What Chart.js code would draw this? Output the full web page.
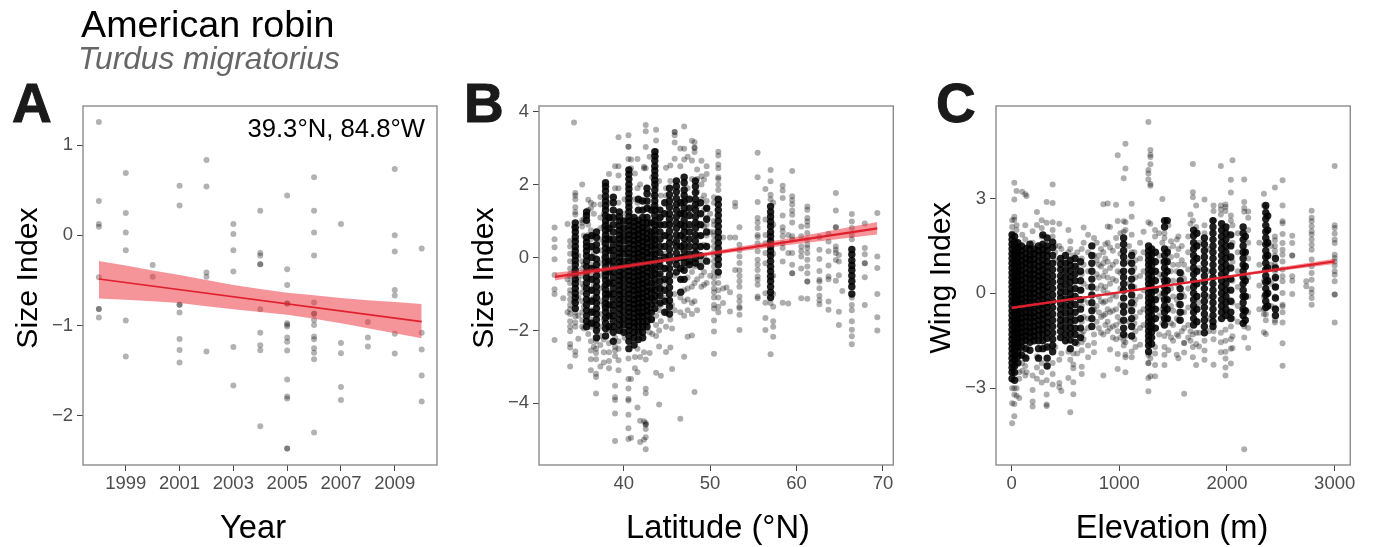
<!DOCTYPE html>
<html>
<head>
<meta charset="utf-8">
<title>American robin</title>
<script src="https://cdn.jsdelivr.net/npm/chart.js@4"></script>
<style>
  body { margin: 0; background: #fff; font-family: "Liberation Sans", sans-serif; }
  #page { position: relative; width: 1374px; height: 547px; overflow: hidden; }
  canvas { position: absolute; top: 0; }
  .txt { position: absolute; white-space: nowrap; line-height: 1; color: #000; }
  .letter { font-size: 55px; font-weight: bold; color: #1a1a1a; -webkit-text-stroke: 1px #1a1a1a; }
  .axis { font-size: 32.7px; transform: translate(-50%, -50%); }
  .axis.y { font-size: 30.3px; transform: translate(-50%, -50%) rotate(-90deg); }
</style>
</head>
<body>
<div id="page">
  <canvas id="chartA" width="450" height="547" style="left:0"></canvas>
  <canvas id="chartB" width="455" height="547" style="left:455px"></canvas>
  <canvas id="chartC" width="459" height="547" style="left:915px"></canvas>
  <div class="txt" style="left:81px;top:6px;font-size:37.7px">American robin</div>
  <div class="txt" style="left:78px;top:43px;font-size:31.7px;font-style:italic;color:#666">Turdus migratorius</div>
  <div class="txt letter" style="left:12px;top:76px">A</div>
  <div class="txt letter" style="left:464px;top:76px">B</div>
  <div class="txt letter" style="left:936px;top:76px">C</div>
  <div class="txt" style="right:949px;top:116px;font-size:25.7px">39.3°N, 84.8°W</div>
  <div class="txt axis y" style="left:27px;top:278px">Size Index</div>
  <div class="txt axis y" style="left:483px;top:278px">Size Index</div>
  <div class="txt axis y" style="left:940px;top:278px">Wing Index</div>
  <div class="txt axis" style="left:253px;top:527px">Year</div>
  <div class="txt axis" style="left:718px;top:527px">Latitude (°N)</div>
  <div class="txt axis" style="left:1172px;top:527px">Elevation (m)</div>
</div>
<script>
// panel A, one list of size index values per year
const years = [1998, 1999, 2000, 2001, 2002, 2003, 2004, 2005, 2006, 2007, 2008, 2009, 2010];
const sizeByYear = [
  [1.255, .38, .125, .095, -.465, -.815, -.815, -.91],
  [.69, .247, .03, -.166, -.945, -1.343],
  [-.33, -.46],
  [.55, .33, -.77, -.77, -.855, -1.148, -1.27, -1.41],
  [.835, .54, -.413, -.46, -1.288],
  [.125, .015, -.166, -.4, -1.236, -1.664],
  [.273, -.195, -.225, -.32, -.32, -.82, -1.08, -1.218, -1.273, -2.114],
  [.44, -.377, -.55, -.756, -.756, -.974, -.99, -1.01, -1.133, -1.18, -1.277, -1.598, -1.786, -1.808, -2.36, -2.36],
  [.642, .273, .03, -.225, -.745, -.87, -.87, -.937, -.993, -1.12, -1.15, -1.25, -1.3, -1.373, -2.185],
  [.125, -1.192, -1.306, -1.68, -1.823],
  [-.96, -1.133, -1.232],
  [.735, 0, -.18, -.605, -.668, -1.09, -1.31],
  [-.145, -1.08, -1.266, -1.553, -1.84]
];
const yearFitX = [1998, 2010];
const yearFitY = [-.484, -.956];
const yearBandX = [1998, 1999, 2000, 2001, 2002, 2003, 2004, 2005, 2006, 2007, 2008, 2009, 2010];
const yearBandHigh = [-.285, -.335, -.39, -.44, -.495, -.55, -.595, -.635, -.665, -.695, -.72, -.74, -.76];
const yearBandLow = [-.7, -.715, -.73, -.75, -.785, -.82, -.85, -.88, -.925, -.975, -1.03, -1.085, -1.14];

// panel B, points that can still be told apart
const latColumns = [32, 33, 33.5, 33.8, 34.25, 34.4, 34.75, 35.2, 35.4, 35.9, 36.2, 36.55, 36.8, 37.3, 37.7, 38.3, 39, 39.4, 40.1, 40.55, 40.85, 41.3, 41.6, 41.9, 42.35, 42.55, 43, 43.3, 43.75, 44.1, 44.3, 44.9, 45.4, 45.6, 45.9, 46.55, 47, 47.4, 47.9, 48.2, 48.5, 49, 49.3, 49.6, 50, 50.45, 50.95, 51.5, 51.9, 52.3, 52.9, 53.4, 55.5, 56.4, 57, 57.3, 58.4, 59.05, 59.5, 60.55, 61.25, 62.65, 63.7, 64.55, 64.9, 65.3, 66.4, 67.9, 69.35];
const sizeByLat = [
  [.82, .5, .28, -.05, -.48, -.87, -1, -2.26],
  [-1.12],
  [.92, -.6, -1.5],
  [.45, .3, .1, -.1, -.3, -.45, -.52, -.7, -.9, -1, -1.15, -1.3, -1.42, -1.55, -1.75, -1.9, -2.02, -2.37, -2.47, -2.99],
  [3.7, .85, .1, -.4, -1.2],
  [1.77, 1.7, 1.6, 1.38, 1.25, 1.18, -1.5, -1.62, -1.78, -1.9, -2.58, -2.69],
  [.05, -.6, -1.1, -1.6, -2.23],
  [2, 1.02, .95, .85, -.1, -.3, -.5, -.72, -.95, -1.2, -1.5, -1.72, -1.9],
  [1.05, .6, -.2, -.8, -1.35, -1.95],
  [1.58, 1.3, .9, .62, -.6, -1.2, -1.8, -2.1],
  [1.5, 1.35, .75, .5, .25, -.2, -.5, -.9, -1.15, -1.45, -1.7, -1.9, -2.3, -2.55, -2.79, -3.09],
  [1.45, 1.2, .6, .1, -.3, -.75, -1.1, -1.5, -1.85, -2.45],
  [-2.3, -2.5, -2.62, -2.79, -3.19, -3.28, -3.73],
  [1.66, 1.45, 1.1, .8, .5, .2, -.15, -.5, -.85, -1.2, -1.55, -1.9, -2.15, -2.4, -2.99],
  [1.2, .85, .4, 0, -.4, -.8, -1.3, -1.7, -2.25, -2.6, -2.88],
  [2.29, 1.5, 1, .65, .25, -.15, -.6, -1.05, -1.5, -2, -2.35, -2.6, -2.84, -3.04],
  [2.5, 1.9, -2.2, -2.45, -2.55, -2.7, -3.52, -3.83, -3.91, -4.28, -5.03],
  [3.3, 2.5, 2.25, 1.9, 1.5, -2.3, -2.5, -2.82, -3.09],
  [1.6, 1.2, -2.2],
  [3.35, 3.04, 3.04, 2.7, -2.77, -3.33, -3.59, -3.88, -3.92, -4.31, -4.68, -4.98],
  [2.69, 2.45, -3.33, -4.94],
  [2.3, 1.6, -2.73, -3.04],
  [2.7, 1.9, 1.5, -2.5, -3.15, -4.11],
  [2, 1.55, -2.73, -4.48, -5.06],
  [2.49, 2.45, -2.6, -4.49, -5],
  [3.63, 3.46, 3.03, 2.45, -2.8, -3.6, -3.72, -4.54, -4.58, -4.58, -4.7, -4.93, -5.26],
  [2.76, 1.4, -.9, -1.5, -2.05, -2.62],
  [2.2, 1.7, .6, -1.1, -1.7, -2.1],
  [3.5, 3.21, 2.92, 2.76, 1.95, -1.6, -1.85, -2.15, -3.16],
  [2.1, .9, -.5, -1, -1.45, -2, -2.44, -4.03],
  [1.7, 1.1, -.2, -.8, -1.3, -1.75, -3.24],
  [2.46, 1.9, 1.7, .6, .1, -.3, -.7, -1.1, -1.5, -1.9, -2.59],
  [2.52, 2.1, .9, -1.7, -2.47],
  [-1.3, -1.95, -3.06],
  [3.35, 3.44, 3.44, 3.15, 2.71, .4, -.5, -1, -1.45],
  [2.99, 2.5, 1.2, -.6, -1.1, -1.5, -4.42],
  [3.59, 2.98, 2.69, 1.6, -.9, -1.2, -1.6, -2.72],
  [2.76, 1.9, -.55, -.85, -1.15, -1.45, -2.17],
  [3.2, 2.66, 2.15, -.4, -.8, -1.25, -1.55, -2.14],
  [3.16, 3.01, 3.01, 2.89, .2, -.25, -.7, -1.2, -3.69],
  [2.41, 2.15, 1.8, 1.4, .95, .6, .2, -.2, -.6, -1.45],
  [2.65, 2.23, 2, 1.6, 1.2, .9, .6, .3, -.1, -.5, -.8],
  [2.14, 1.7, 1.3, .85, .35, .05, -.4, -.75],
  [2.5, 2.29, 1.55, 1.35, 1.1, .9, .6, .3, -.7],
  [1.2, .7, -.5],
  [1.65, 1.5, 1.0, .9, .7, .6, .45, .3, .15, .05, -.1, -.25, -.4, -.55, -.7, -.85, -.95, -1.1, -1.3, -1.4, -1.73, -2.03, -2.64],
  [2.9, 2.8, 2.55, 2.45, 2.2, 2.15, 2, 1.85, -.5, -.7, -.9, -1.1, -1.35, -1.5],
  [.55, -.85, -1.25],
  [-.82],
  [.55, -.95, -1.48],
  [1.5, 1.4, .55, -.34],
  [.83, .35, .2, .03, -.15, -.35, -.5, -.65, -.8, -1.07, -1.2, -1.35, -1.39, -1.57, -1.99],
  [2.87, 2.2, 1.52, 1.08, .96, .81, .62, .56, .39, .17, -.06, -.2, -.34, -.52, -.61, -.75, -1.07, -1.12],
  [1.88, 1.04, .62, .39, .12, -.16, -.98, -1.24, -1.66, -1.99],
  [2.4, 2.09, 1.72, 1.6, -1.25, -2.65],
  [1.5, .9, .1, -.5, -1, -1.35, -1.75, -1.9, -2.17],
  [1.97, 1.84, 1.63, 1.15, .83, .72, .58, .39, .26, -.11, -1.24],
  [.62, .12, -1.26],
  [2.37, 1.68, 1.57, 1.45, 1.29, 1.17, .96, .58, .49, .12, -.2, -.43, -.43],
  [.85, .58, .3, .17, .03, -.3, -1.12],
  [1.4, 1.31, 1.08, .99, .87, .67, .49, .35, .26, .12, -.06, -.25, -.43, -.66, -.66, -1.13],
  [.56, .21, -.04, -.37, -.61, -.66, -.84, -1.05, -1.17, -1.28],
  [.65, .44, .17, -.22, -.52, -.6, -1.21, -1.43],
  [1.77, 1.29, .83, .83, .3, .21, .12, -.07, -.64],
  [.07, -.11, -.49, -1.49, -1.85],
  [-.92],
  [1.19, .99, .81, .62, .5, -1.1, -1.3, -1.45, -1.75, -1.98, -2.16, -2.38],
  [.93, .26, .09, -.16, -.16, -.54, -1.3],
  [1.22, .03, -.29, -1, -1.64, -2]
];
// panel B, columns overplotted too heavily to read one by one
const latCore = [34.4, 35.7, 36.3, 36.85, 37.9, 38.3, 38.8, 39.5, 40, 40.6, 41.2, 41.7, 42.2, 42.7, 43.2, 43.6, 44.2, 44.75, 45.3, 46.1, 46.6, 47, 47.6, 48.3, 48.9, 49.6, 50.95, 57, 66.4];
const sizeCore = [
  [.95, .82, .7, .56, .44, .3, .18, .05, -.08, -.2, -.34, -.46, -.6, -.72, -.85, -.98, -1.1, -1.24, -1.4],
  [1.25, 1.15, 1.02, .55, .42, .3, .18, .05, -.1, -.25, -.4, -.55, -.7, -.85, -1, -1.15, -1.3, -1.45, -1.6, -1.75, -1.9],
  [.6, .3, 0, -.3, -.6, -.9, -1.2, -1.5, -1.8],
  [.7, .55, .35, .2, -.05, -.2, -.35, -.5, -.65, -.8, -.95, -1.1, -1.25, -1.4, -1.55, -1.7, -1.85, -2, -2.2],
  [2.05, 1.95, 1.82, 1.68, 1.55, 1.42, 1.3, 1.15, 1, .88, .75, .62, .5, .38, .25, .12, 0, -.12, -.25, -.38, -.5, -.62, -.75, -.88, -1, -1.12, -1.25, -1.38, -1.5, -1.65, -1.8, -1.95, -2.15],
  [1.1, .8, .5, .2, -.1, -.4, -.7, -1, -1.3, -1.6, -1.9],
  [1.65, 1.5, 1.3, 1.1, .9, .7, .5, .35, .2, .05, -.1, -.25, -.4, -.55, -.7, -.85, -1, -1.15, -1.3, -1.45, -1.6, -1.75, -1.9, -2.05, -2.3],
  [1.25, 1.12, 1, .87, .75, .62, .5, .38, .25, .12, 0, -.12, -.25, -.38, -.5, -.63, -.76, -.9, -1.02, -1.15, -1.28, -1.4, -1.55, -1.7, -1.85, -2],
  [1, .8, .62, .45, .25, .1, -.1, -.28, -.45, -.62, -.8, -.98, -1.15, -1.32, -1.5, -1.68, -1.85, -2.05],
  [2.4, 2.28, 2.15, 2, 1.88, 1.75, 1.62, 1.5, 1.38, 1.25, 1.12, 1, .88, .75, .62, .5, .38, .25, .12, 0, -.13, -.25, -.38, -.5, -.63, -.75, -.88, -1, -1.13, -1.25, -1.38, -1.5, -1.63, -1.75, -1.88, -2, -2.15, -2.3, -2.5],
  [1.1, .98, .85, .72, .6, .47, .35, .22, .1, -.03, -.16, -.28, -.4, -.53, -.66, -.78, -.9, -1.03, -1.16, -1.28, -1.4, -1.53, -1.66, -1.78, -1.9, -2.05, -2.2, -2.4],
  [1.6, 1.3, 1.02, .9, .76, .63, .5, .38, .25, .12, 0, -.12, -.25, -.38, -.5, -.62, -.75, -.88, -1, -1.12, -1.25, -1.38, -1.5, -1.62, -1.75, -1.9, -2.05, -2.25],
  [1.55, 1.3, 1.1, .95, .82, .7, .56, .44, .3, .18, .05, -.08, -.2, -.34, -.46, -.6, -.72, -.85, -.98, -1.1, -1.24, -1.36, -1.5, -1.62, -1.76, -1.9, -2.05, -2.2],
  [1.9, 1.75, 1.55, 1.35, 1.1, .95, .8, .66, .52, .4, .26, .13, 0, -.14, -.27, -.4, -.53, -.67, -.8, -.93, -1.07, -1.2, -1.33, -1.46, -1.6, -1.75, -1.9],
  [1.3, .95, .7, .5, .3, .1, -.1, -.3, -.5, -.7, -.9, -1.1, -1.3, -1.5, -1.7],
  [2.9, 2.78, 2.65, 2.5, 2.38, 2.25, 2.12, 2, 1.85, 1.7, 1.55, 1.42, 1.3, 1.15, 1, .88, .75, .62, .48, .35, .22, .08, -.05, -.18, -.32, -.45, -.6, -.75, -.9, -1.05, -1.2, -1.4],
  [1.3, 1.1, .9, .7, .5, .3, .12, -.08, -.25, -.45, -.65, -.85, -1.05, -1.25],
  [1.5, 1.2, .9, .6, .3, 0, -.3, -.6, -.9, -1.2, -1.5],
  [1.9, 1.72, 1.55, 1.38, 1.2, 1.05, .9, .72, .55, .4, .22, .05, -.12, -.3, -.48, -.65, -.82, -1, -1.18, -1.35, -1.55],
  [2.1, 1.95, 1.8, 1.62, 1.45, 1.3, 1.12, .95, .8, .62, .45, .3, .12, -.05, -.2, -.4],
  [1.5, 1.2, .9, .6, .3, 0, -.3, -.6, -.95],
  [2.2, 2.05, 1.85, 1.7, 1.52, 1.35, 1.2, 1.02, .85, .7, .52, .35, .18, 0, -.15, -.35, -.6],
  [1.6, 1.35, 1.15, .9, .7, .5, .3, .1, -.1, -.2],
  [2.1, 1.95, 1.78, 1.6, 1.45, 1.3, 1.12, .95, .8, .62, .45, .3, .12, -.02, -.15],
  [1.5, 1.2, .9, .6, .3, .05, -.25],
  [1.35, 1.05, .7, .3, -.1],
  [1.6, 1.45, 1.3, 1.15, 1, .85, .7, .55, .4, .25, .1, -.05, -.2, -.4],
  [1.4, 1.25, 1.12, .98, .85, .7, .58, .45, .3, .18, .05, -.1, -.25, -.38, -.52, -.65, -.8, -.95, -1.1],
  [.22, .08, -.08, -.22, -.35, -.5, -.65, -.8, -1]
];
const latFitX = [32.05, 69.35];
const latFitY = [-.53, .797];
const latBandX = [32.05, 38, 45, 52, 60, 69.35];
const latBandHigh = [-.42, -.26, -.02, .24, .56, .97];
const latBandLow = [-.63, -.38, -.12, .12, .37, .63];

// panel C, points that can still be told apart
const elevColumns = [5, 25, 46, 71, 99, 127, 139, 195, 235, 279, 325, 381, 405, 443, 462, 527, 545, 573, 610, 651, 669, 710, 765, 790, 810, 830, 852, 870, 892, 914, 940, 970, 985, 1010, 1041, 1057, 1090, 1115, 1140, 1150, 1193, 1225, 1270, 1289, 1332, 1370, 1400, 1419, 1456, 1480, 1500, 1534, 1549, 1580, 1602, 1640, 1661, 1683, 1714, 1741, 1791, 1830, 1875, 1943, 1986, 2036, 2051, 2100, 2160, 2197, 2300, 2343, 2361, 2410, 2445, 2516, 2606, 2736, 2786, 3000];
const wingByElev = [
  [2.31, 2.1, 1.9, -3, -3.48, -4.11],
  [3.5, 2.97, 2.42, 2.33, -3, -3.2, -3.5, -3.89],
  [3.24, 2.15, 2, -3.24, -3],
  [-3.31, -2.7, -2.5],
  [3.21, 1.85, -2.45, -2.2],
  [3.13, 2.15, 1.7, -2.6, -2.3, -2],
  [3.08, -2.5],
  [1.96, 1.6, -3.42, -3.58, -3.06, -2.6],
  [2.57, 2.16, -2.35, -2, -2.7],
  [2.31, 2.07, 1.8, -2.82, -2.5, -2.2],
  [2.89, 2.23, -3.2, -3.52, -3.56, -2.75],
  [3.44, 2.86, 2.25, 2, 1.8, -2.88, -2.55, -2.2],
  [1.5, 1.3, 1.05, -1.7],
  [2.2, 1.5, -2.84, -2.97, -2.1],
  [1.4, -3.09, -1.9],
  [2, 1.3, -2.68, -1.85],
  [1.65, 1.4, -3.76, -2.1],
  [1.2, -2.81, -3.19, -2.37, -2.25, -1.9],
  [1.3, .8, -1.6, -1.9],
  [1.4, 1.1, .6, .1, -.4, -.9, -1.3, -1.55, -1.8, -2.32, -2.55],
  [2.08, 1.6, .9, .3, -.2, -.75, -1.2, -1.45],
  [1.85, 1.3, .7, .2, -.3, -.8, -1.1, -1.65, -2.02],
  [1.75, 1.2, -.5, -1.3, -1.57, -1.86],
  [1.6, 1.05, .6, .15, -.4, -.9],
  [1.2, .9, .5, -.1, -.6, -1.1],
  [1.4, .85, .25, -.25, -.75, -1.25],
  [2.82, 1.3, .95, .55, .1, -.3, -.7, -1.3, -2.6],
  [1.55, 1.1, .7, .2, -.25, -.65, -1],
  [2.84, 2.11, 1.6, 1, .5, 0, -.5, -.9, -1.2],
  [2.1, 1.45, .8, .3, -.2, -.6, -1.1, -1.78],
  [1.35, .9, .45, -.05, -.55, -1.05, -1.4],
  [2.8, 1.75, 1, .4, -.1, -.5, -1, -1.45],
  [4.37, 2.29, 1.5, .7, -.75, -1.2, -1.92, -2.39],
  [1.9, 1.25, .65, .15, -.35, -.9, -1.4],
  [3.64, 2.28, 1.95, -1.5, -1.65],
  [4.73, 3.95, 2.25, 2, -1.35, -1.55, -1.94, -2.02, -2.5],
  [1.5, 1, .3, -.4, -.9],
  [2.83, 2.42, 1.85, 1.3, -1.84, -2.02],
  [1.3, .8, .2, -.35, -.95, -1.45],
  [1.05, .5, -.2, -.75, -1.2, -1.7],
  [1.6, 1.1, .55, -.1, -.6, -1.1, -1.63],
  [1.95, 1.3, .7, .1, -.5, -1],
  [5.42, 3.9, 3.79, 3.6, 2.25, -1.95, -2.2, -2.21, -2.68, -3.1],
  [4.53, 4.38, 4.31, 4.08, 3.46, 3.4, 2.2, -2.05, -2.62],
  [2, 1.8, -1.7, -1.9, -2.27, -2.62],
  [1.9, 1.2, .6, -.1, -.7, -1.3],
  [2.98, 1.6, 1, .5, 0, -.5, -.95],
  [1.9, 1.75, -1.35, -1.7, -1.94, -2.27],
  [2.15, 1.4, -.8, -1.25, -1.8],
  [1.65, 1.15, .7, .15, -.4, -.95, -1.4],
  [1.5, .9, .4, -.1, -.55, -1, -1.5],
  [1.7, 1.2, .7, -.2, -.8, -1.3, -1.94],
  [1.8, 1.4, .9, .25, -.35, -.85, -1.35, -2.05],
  [1.5, 1.05, .6, 0, -.6, -1.2],
  [.9, .45, -.1, -.6, -1.1, -1.57, -1.57, -1.87, -3.18],
  [1.8, 1.3, .75, .15, -.45, -1, -1.4],
  [2.49, 2.2, -1.2, -1.5],
  [4.09, 3.2, 3.04, 2.3, -1.3, -1.7, -2.02],
  [2.78, 2.1, -1.25, -1.6, -2.27],
  [1.6, .8, -.3, -1.25, -1.68],
  [2.97, 2.15, 1.9, -1.5, -1.81, -2.1],
  [1.4, .7, -.1, -.8, -1.2],
  [2.78, 2.6, 2.3, -1.2, -1.45, -2.26],
  [4.03, 2.78, 2.49, 2.65, -1.25, -1.55, -1.86],
  [2.81, 2.73, 2.6, -1.15, -1.5, -1.85, -2.06, -2.35, -2.6],
  [3.59, 3.19, 2.46, 2.3, -1.05, -1.45, -1.75, -2.22],
  [4.21, 2.15, 1.6, 1, .4, -.3, -.8, -1.36, -1.73],
  [1.9, 1.3, .7, .2, -.4, -.9],
  [3.6, 2.89, 2.7, 2.58, -1.05, -1.4, -4.93],
  [2.59, 2.39, 2, 1.6, 1.1, .5, -.1, -.6, -1.1, -1.73],
  [1.6, .9, .25, -.5],
  [3.15, 2.78, .4, -.1, -.5, -.66, -1.23],
  [2.7, -.66, -.85, -1.29],
  [1.5, .9, .3, -.4],
  [3.35, 1.8, 1.68, 1.5, 1.35, 1.2, .9, .7, .45, .2, -.1, -.45, -.85, -.92],
  [3.58, 2.78, 2.28, 2.22, 1.88, 1.59, 1.38, 1.22, 1.01, .75, .54, .38, .01, -.41, -.36, -.6, -.92, -1.58, -2.29],
  [1.82, 1.59, 1.2, 1.2, .54, .4, -.02],
  [.38, .22],
  [2.61, 2.39, 2.28, 2.12, 1.96, 1.86, 1.7, 1.54, 1.38, 1.07, .86, .64, .43, .14, .01, -.15, -.36],
  [4.03, 2.15, 2.07, 1.89, 1.7, 1.59, 1.22, 1.12, 1.01, .88, .7, .59, .38, -.04, -.04, -.92]
];
// panel C, columns overplotted too heavily to read one by one
const elevCore = [4, 28, 58, 92, 132, 170, 208, 250, 290, 330, 381, 455, 500, 545, 590, 640, 745, 1040, 1115, 1272, 1300, 1335, 1420, 1445, 1565, 1690, 1720, 1790, 1870, 1950, 1990, 2035, 2150, 2170, 2360, 2378, 2450];
const wingCore = [
  [1.85, 1.7, 1.55, 1.4, 1.25, 1.1, .95, .8, .65, .5, .35, .2, .05, -.1, -.25, -.4, -.55, -.7, -.85, -1, -1.15, -1.3, -1.45, -1.6, -1.75, -1.9, -2.05, -2.2, -2.35, -2.5, -2.7],
  [1.8, 1.62, 1.48, 1.32, 1.18, 1.02, .88, .72, .58, .42, .28, .12, -.02, -.18, -.32, -.48, -.62, -.78, -.92, -1.08, -1.22, -1.38, -1.52, -1.68, -1.82, -1.98, -2.12, -2.3, -2.5, -2.75],
  [1.6, 1.45, 1.3, 1.15, 1, .85, .7, .55, .4, .25, .1, -.05, -.2, -.35, -.5, -.65, -.8, -.95, -1.1, -1.25, -1.4, -1.55, -1.7, -1.85, -2, -2.2],
  [1.5, 1.35, 1.2, 1.03, .88, .72, .58, .42, .27, .12, -.03, -.18, -.33, -.48, -.63, -.78, -.93, -1.08, -1.23, -1.38, -1.53, -1.7, -1.95],
  [1.42, 1.25, 1.1, .95, .8, .63, .48, .32, .17, .02, -.13, -.28, -.44, -.6, -.75, -.9, -1.05, -1.2, -1.35, -1.5, -1.75, -2.05],
  [1.55, 1.4, 1.22, 1.07, .92, .75, .6, .45, .3, .14, 0, -.15, -.3, -.46, -.6, -.76, -.92, -1.07, -1.22, -1.38, -1.55, -1.8],
  [1.4, 1.25, 1.08, .92, .76, .6, .45, .3, .15, 0, -.15, -.3, -.45, -.6, -.75, -.9, -1.05, -1.2, -1.35, -1.5],
  [1.5, 1.35, 1.2, 1.02, .85, .7, .55, .4, .24, .08, -.08, -.22, -.38, -.54, -.7, -.85, -1, -1.15, -1.32, -1.5, -1.75, -2.05],
  [1.85, 1.55, 1.38, 1.22, 1.05, .9, .74, .58, .42, .28, .12, -.04, -.2, -.35, -.5, -.66, -.82, -.98, -1.14, -1.3, -1.5, -1.75],
  [1.75, 1.5, 1.35, 1.18, 1, .85, .68, .52, .36, .2, .05, -.12, -.28, -.44, -.6, -.75, -.92, -1.08, -1.25, -1.42, -1.7, -2.05, -2.3],
  [1.62, 1.45, 1.2, .95, .75, .55, .35, .15, -.05, -.25, -.45, -.65, -.85, -1.05, -1.25, -1.45, -1.65, -1.85],
  [1.1, .92, .75, .55, .38, .2, .02, -.15, -.32, -.5, -.68, -.85, -1.02, -1.2, -1.4],
  [1.2, .95, .72, .5, .28, .05, -.18, -.4, -.62, -.85, -1.08, -1.3, -1.5],
  [1.05, .88, .7, .52, .35, .15, -.02, -.2, -.38, -.56, -.74, -.92, -1.1, -1.28, -1.48, -1.75],
  [1.1, .85, .62, .4, .15, -.1, -.35, -.6, -.85, -1.1, -1.3, -1.55],
  [1, .7, .4, .1, -.2, -.5, -.8, -1.1, -1.4],
  [1.5, 1.2, .95, .7, .45, .2, -.05, -.3, -.55, -.8, -1.05],
  [1.75, 1.55, 1.35, 1.15, .95, .7, .5, .3, .1, -.15, -.4, -.6, -.85, -1.1, -1.3],
  [1.2, .95, .7, .45, .2, -.05, -.3, -.55, -.8, -1.05, -1.35],
  [1.5, 1.35, 1.2, 1.05, .9, .75, .6, .45, .3, .15, 0, -.15, -.3, -.45, -.6, -.75, -.9, -1.05, -1.2, -1.35, -1.5, -1.65, -1.85],
  [1.4, 1.22, 1.05, .88, .7, .52, .35, .18, 0, -.18, -.35, -.52, -.7, -.88, -1.05, -1.22, -1.4, -1.6],
  [1.3, 1, .7, .4, .1, -.2, -.5, -.8, -1.1],
  [2.3, 2.1, 1.4, 1.2, 1, .8, .6, .4, .2, 0, -.2, -.4, -.6, -.8, -1],
  [2.3, 1.3, 1, .7, .4, .1, -.2, -.5, -.8],
  [.65, .4, .15, -.1, -.35, -.6, -.85],
  [2, 1.82, 1.6, 1.4, 1.2, 1, .8, .6, .4, .2, 0, -.2, -.4, -.6, -.8, -1],
  [1.9, 1.5, 1.1, .7, .3, -.1, -.5, -.9],
  [1.75, 1.55, 1.35, 1.15, .95, .75, .55, .35, .15, -.05, -.25, -.45, -.65, -.85, -1.05, -1.25],
  [2.3, 2.1, 1.9, 1.7, 1.5, 1.3, 1.1, .9, .7, .5, .3, .1, -.1, -.3, -.5, -.7, -.9, -1.05],
  [2.2, 2, 1.8, 1.6, 1.4, 1.2, 1, .8, .6, .4, .2, 0, -.2, -.4, -.6, -.8],
  [2.1, 1.9, 1.7, 1.5, 1.3, 1.1, .9, .7, .5, .3, .1, -.1, -.3, -.5, -.7],
  [1.85, 1.5, 1.15, .8, .45, .1, -.25, -.6, -.8],
  [2.1, 1.9, 1.7, 1.5, 1.3, 1.1, .9, .7, .5, .3, .1, -.1, -.3, -.5, -.7, -.95],
  [1.8, 1.3, .85, .4, -.1, -.55, -.85],
  [2.78, 2.55, 2.35, 2.15, 1.95, 1.75, 1.55, 1.35, 1.15, .95, .75, .55, .35, .15, -.05, -.25, -.45],
  [2.45, 2, 1.6, 1.2, .8, .4, 0, -.4],
  [1.1, .8, .5, .2, -.15, -.5, -.7]
];
const elevFitX = [0, 3000];
const elevFitY = [-.46, 1.01];
const elevBandX = [0, 1000, 2000, 3000];
const elevBandHigh = [-.42, .06, .56, 1.09];
const elevBandLow = [-.5, .0, .5, .93];

const tickLists = {
  A: { x: [1999, 2001, 2003, 2005, 2007, 2009], y: [-2, -1, 0, 1] },
  B: { x: [40, 50, 60, 70], y: [-4, -2, 0, 2, 4] },
  C: { x: [0, 1000, 2000, 3000], y: [-3, 0, 3] }
};

const toPoints = (xs, ys) => xs.map((x, i) => ({ x: x, y: ys[i] }));
const columnPoints = (xs, lists) => xs.flatMap((x, i) => lists[i].map(y => ({ x: x, y: y })));

// the panel border goes round all four sides, the axes only give two
const boxPlugin = {
  id: "box",
  afterDraw(chart) {
    const a = chart.chartArea, ctx = chart.ctx;
    ctx.save();
    ctx.strokeStyle = "#8c8c8c";
    ctx.lineWidth = 1.4;
    ctx.strokeRect(a.left, a.top, a.right - a.left, a.bottom - a.top);
    ctx.restore();
  }
};

function axis(ticks, min, max, size, padding) {
  return {
    type: "linear",
    min: min,
    max: max,
    afterBuildTicks: s => { s.ticks = ticks.map(v => ({ value: v })); },
    afterFit: s => { if (s.isHorizontal()) s.height = size; else s.width = size; },
    border: { display: false },
    grid: { drawOnChartArea: false, drawTicks: true, tickLength: 6, tickColor: "#444", tickWidth: 1 },
    ticks: {
      autoSkip: false,
      maxRotation: 0,
      padding: padding,
      color: "#4d4d4d",
      font: { family: "Liberation Sans", size: 18.5 },
      callback: v => String(v).replace("-", "\u2212")
    }
  };
}

function panel(id, sets, ticks, xr, yr, leftSize, rightPad, lineWidth) {
  const points = sets.points.map(p => ({
    data: p.data,
    backgroundColor: p.color,
    borderWidth: 0,
    pointRadius: p.radius,
    order: 3
  }));
  return new Chart(document.getElementById(id), {
    type: "scatter",
    data: {
      datasets: points.concat([
        { data: toPoints(sets.bandX, sets.high), showLine: true, pointRadius: 0, borderWidth: 0, fill: "+1", backgroundColor: "rgba(235,50,60,.52)", order: 2 },
        { data: toPoints(sets.bandX, sets.low), showLine: true, pointRadius: 0, borderWidth: 0, fill: false, order: 2 },
        { data: toPoints(sets.fitX, sets.fitY), showLine: true, pointRadius: 0, borderWidth: lineWidth, borderColor: "#e0202c", fill: false, order: 1 }
      ])
    },
    options: {
      responsive: false,
      animation: false,
      layout: { padding: { top: 106, right: rightPad, left: 0, bottom: 0 } },
      plugins: { legend: { display: false }, tooltip: { enabled: false } },
      scales: {
        x: axis(ticks.x, xr[0], xr[1], 82, 2),
        y: axis(ticks.y, yr[0], yr[1], leftSize, 4)
      }
    },
    plugins: [boxPlugin]
  });
}

panel("chartA", {
  points: [{ data: columnPoints(years, sizeByYear), color: "rgba(0,0,0,.3)", radius: 3 }],
  bandX: yearBandX, high: yearBandHigh, low: yearBandLow, fitX: yearFitX, fitY: yearFitY
}, tickLists.A, [1997.41, 2010.57], [-2.544, 1.432], 83, 13, 1.6);

panel("chartB", {
  points: [
    { data: columnPoints(latColumns, sizeByLat), color: "rgba(0,0,0,.32)", radius: 3 },
    { data: columnPoints(latCore, sizeCore), color: "rgba(0,0,0,.88)", radius: 3.7 }
  ],
  bandX: latBandX, high: latBandHigh, low: latBandLow, fitX: latFitX, fitY: latFitY
}, tickLists.B, [30.2, 71.2], [-5.69, 4.154], 84, 16.7, 2.2);

panel("chartC", {
  points: [
    { data: columnPoints(elevColumns, wingByElev), color: "rgba(0,0,0,.32)", radius: 3 },
    { data: columnPoints(elevCore, wingCore), color: "rgba(0,0,0,.88)", radius: 3.7 }
  ],
  bandX: elevBandX, high: elevBandHigh, low: elevBandLow, fitX: elevFitX, fitY: elevFitY
}, tickLists.C, [-145, 3145], [-5.43, 5.925], 81, 23.7, 2.2);
</script>
</body>
</html>
